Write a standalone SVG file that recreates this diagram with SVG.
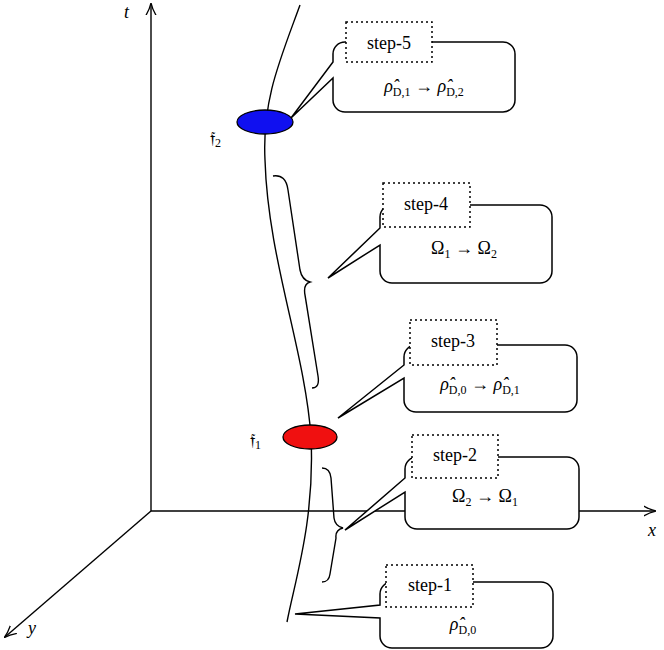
<svg xmlns="http://www.w3.org/2000/svg" width="664" height="650" viewBox="0 0 664 650">
<defs><marker id="ar" viewBox="0 0 10 10" refX="9" refY="5" markerWidth="9" markerHeight="9" orient="auto"><path d="M0,1 Q5,4 10,5 Q5,6 0,9" fill="none" stroke="#000" stroke-width="1"/></marker></defs>
<style>
.l{fill:none;stroke:#000;stroke-width:1.4}
.c{fill:#fff;stroke:#000;stroke-width:1.5}
.d{fill:#fff;stroke:#000;stroke-width:1.5;stroke-dasharray:2,3}
text{font-family:"Liberation Serif",serif;font-size:18px;fill:#000}
.m{text-anchor:middle}
.s{font-size:12px}
</style>
<g id="axes">
<line class="l" x1="151" y1="511" x2="151" y2="4" marker-end="url(#ar)"/>
<line class="l" x1="151" y1="511" x2="655" y2="511" marker-end="url(#ar)"/>
<line class="l" x1="151" y1="511" x2="5" y2="637" marker-end="url(#ar)"/>
<text x="124" y="18" font-style="italic">t</text>
<text x="648" y="536" font-style="italic">x</text>
<text x="28" y="634" font-style="italic">y</text>
</g>
<g id="connectors">
<path class="l" d="M300,5 C280,60 262,100 265,160 C268,260 305,350 311,437 C315,520 295,580 287,622"/>
<path class="l" d="M273,176 Q286,174 288,190 L300,270 Q302,280 310,282 Q303,284 305,295 L318,376 Q320,388 312,388"/>
<path class="l" d="M322,468 Q330,468 331,478 L334,518 Q335,526 343,528 Q335,530 336,538 L330,574 Q329,582 322,582"/>
</g>
<g id="f2"><ellipse cx="265" cy="122" rx="28" ry="12" fill="#1010f0" stroke="#000" stroke-width="1.3"/><text x="210" y="144">𝔣<tspan class="s" dy="3">2</tspan></text></g>
<g id="f1"><ellipse cx="310" cy="437" rx="27" ry="12" fill="#f01010" stroke="#000" stroke-width="1.3"/><text x="250" y="446">𝔣<tspan class="s" dy="3">1</tspan></text></g>
<g id="step5">
<path class="c" d="M345,42 H503 A12 12 0 0 1 515,54 V100 A12 12 0 0 1 503,112 H345 A12 12 0 0 1 333,100 V78 L291,118 L333,62 V54 A12 12 0 0 1 345,42 Z"/>
<rect class="d" x="346" y="22" width="86" height="40"/>
<text class="m" x="389" y="49">step-5</text>
<text class="m" x="424" y="92"><tspan font-style="italic">ρ̂</tspan><tspan class="s" dy="4">D,1</tspan><tspan dy="-4"> → </tspan><tspan font-style="italic">ρ̂</tspan><tspan class="s" dy="4">D,2</tspan></text>
</g>
<g id="step4">
<path class="c" d="M392,205 H540 A12 12 0 0 1 552,217 V271 A12 12 0 0 1 540,283 H392 A12 12 0 0 1 380,271 V245 L328,278 L380,228 V217 A12 12 0 0 1 392,205 Z"/>
<rect class="d" x="383" y="183" width="87" height="44"/>
<text class="m" x="426" y="210">step-4</text>
<text class="m" x="464" y="254">Ω<tspan class="s" dy="4">1</tspan><tspan dy="-4"> → Ω</tspan><tspan class="s" dy="4">2</tspan></text>
</g>
<g id="step3">
<path class="c" d="M416,345 H565 A12 12 0 0 1 577,357 V400 A12 12 0 0 1 565,412 H416 A12 12 0 0 1 404,400 V378 L338,418 L404,365 V357 A12 12 0 0 1 416,345 Z"/>
<rect class="d" x="410" y="320" width="87" height="45"/>
<text class="m" x="453" y="347">step-3</text>
<text class="m" x="480" y="390"><tspan font-style="italic">ρ̂</tspan><tspan class="s" dy="4">D,0</tspan><tspan dy="-4"> → </tspan><tspan font-style="italic">ρ̂</tspan><tspan class="s" dy="4">D,1</tspan></text>
</g>
<g id="step2">
<path class="c" d="M417,457 H567 A12 12 0 0 1 579,469 V517 A12 12 0 0 1 567,529 H417 A12 12 0 0 1 405,517 V492 L345,530 L405,478 V469 A12 12 0 0 1 417,457 Z"/>
<rect class="d" x="412" y="435" width="86" height="43"/>
<text class="m" x="455" y="461">step-2</text>
<text class="m" x="485" y="502">Ω<tspan class="s" dy="4">2</tspan><tspan dy="-4"> → Ω</tspan><tspan class="s" dy="4">1</tspan></text>
</g>
<g id="step1">
<path class="c" d="M392,582 H541 A12 12 0 0 1 553,594 V636 A12 12 0 0 1 541,648 H392 A12 12 0 0 1 380,636 V618 L295,614 L380,605 V594 A12 12 0 0 1 392,582 Z"/>
<rect class="d" x="386" y="565" width="87" height="42"/>
<text class="m" x="430" y="591">step-1</text>
<text class="m" x="463" y="630"><tspan font-style="italic">ρ̂</tspan><tspan class="s" dy="4">D,0</tspan></text>
</g>
</svg>
